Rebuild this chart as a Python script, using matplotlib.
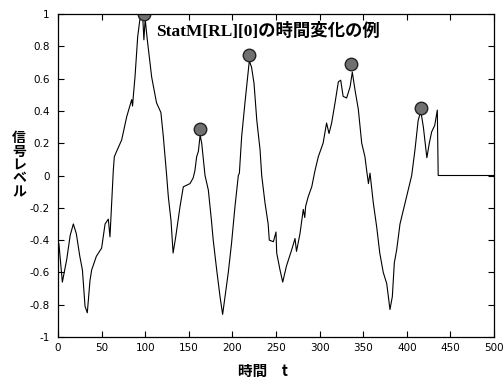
import matplotlib
matplotlib.use("Agg")
import matplotlib.pyplot as plt

# signal trace (time, level)
t = [0, 1, 5, 10, 14, 17.6, 21, 25, 28, 31, 33.6, 36.7, 38.6, 44, 50, 54, 57.7,
     59.6, 61.6, 63.4, 64.6, 67, 73, 78.8, 84.5, 85.5, 86.5, 88.3, 91.4, 94, 97,
     98.5, 100, 102, 107.4, 113, 118, 120.8, 124.6, 126.5, 129.6, 132, 135, 140,
     143.7, 151.4, 155, 157, 159, 161, 163, 164.8, 168.6, 172.4, 176, 178, 182,
     185.8, 188.8, 191.5, 195.3, 199, 203, 206.8, 208, 210.6, 214.4, 217.5, 219.4,
     222, 224.8, 228, 231.7, 233.6, 237.4, 241, 242.3, 247, 250, 250.8, 254.6,
     257.7, 262, 268, 271.8, 273.5, 277.5, 281.3, 283, 284, 287, 291, 294.7, 298.5,
     304, 308, 310.8, 313.8, 317.7, 321.5, 324.2, 327, 331, 335, 337.5, 340.6,
     344.4, 348.3, 352, 354, 356, 357.8, 361.6, 365.5, 369, 373, 377, 378.8, 380.7,
     383.4, 385.7, 388.4, 392.2, 398, 405.6, 409.4, 413, 416, 419, 423, 425.8,
     428.5, 432, 435, 436, 500]
y = [-0.50, -0.42, -0.66, -0.52, -0.37, -0.30, -0.36, -0.50, -0.585, -0.81, -0.85,
     -0.65, -0.585, -0.50, -0.45, -0.30, -0.27, -0.38, -0.17, 0.03, 0.116, 0.147,
     0.22, 0.364, 0.47, 0.43, 0.50, 0.61, 0.86, 0.97, 1.0, 0.84, 0.97, 0.86, 0.61,
     0.45, 0.39, 0.24, 0.0, -0.13, -0.28, -0.48, -0.38, -0.19, -0.07, -0.05, -0.015,
     0.03, 0.116, 0.15, 0.25, 0.20, 0.0, -0.09, -0.28, -0.40, -0.585, -0.75, -0.86,
     -0.75, -0.60, -0.42, -0.19, 0.0, 0.015, 0.24, 0.45, 0.61, 0.71, 0.67, 0.57,
     0.34, 0.16, 0.0, -0.17, -0.30, -0.40, -0.41, -0.35, -0.48, -0.585, -0.66,
     -0.56, -0.46, -0.39, -0.47, -0.36, -0.21, -0.26, -0.19, -0.13, -0.07, 0.03,
     0.116, 0.20, 0.325, 0.26, 0.325, 0.45, 0.58, 0.59, 0.49, 0.48, 0.55, 0.64,
     0.53, 0.41, 0.20, 0.116, 0.03, -0.05, 0.015, -0.17, -0.32, -0.48, -0.60, -0.67,
     -0.75, -0.83, -0.75, -0.54, -0.46, -0.30, -0.17, 0.0, 0.16, 0.34, 0.40, 0.30,
     0.11, 0.20, 0.27, 0.31, 0.405, 0.0, 0.0]

# peak markers
peak_t = [99, 163, 219.4, 336, 416]
peak_y = [1.0, 0.29, 0.745, 0.69, 0.42]

xticks = [0, 50, 100, 150, 200, 250, 300, 350, 400, 450, 500]
yticks = [-1, -0.8, -0.6, -0.4, -0.2, 0, 0.2, 0.4, 0.6, 0.8, 1]
ytick_labels = ["-1", "-0.8", "-0.6", "-0.4", "-0.2", "0", "0.2", "0.4", "0.6", "0.8", "1"]

title_text = "StatM[RL][0]の時間変化の例"
xlabel_text = "時間　t"
ylabel_text = "信号レベル"

fig = plt.figure(figsize=(5.03, 3.79), dpi=100)
ax = fig.add_axes([58/503, 1-337/379, 436/503, 323/379])

ax.plot(t, y, color="black", lw=0.8)
ax.plot(peak_t, peak_y, "o", ms=9, mfc="#707070", mec="#222222", mew=1.0, ls="none")

ax.set_xlim(0, 500)
ax.set_ylim(-1, 1)
ax.set_xticks(xticks)
ax.set_yticks(yticks)
ax.set_yticklabels(ytick_labels)
ax.tick_params(direction="in", length=4, width=0.8, top=True, right=True,
               labelsize=7.5, pad=4)
ax.tick_params(axis="y", pad=6)
for s in ax.spines.values():
    s.set_linewidth(0.9)

ax.text(0.225, 0.947, title_text, transform=ax.transAxes, fontsize=12.5,
        fontweight="bold", va="center", ha="left",
        family=["Liberation Serif", "Noto Sans CJK JP"])

fig.text(263/503, 1-371/379, xlabel_text, ha="center", va="center",
         fontsize=10.5, fontweight="bold", family=["Noto Sans CJK JP", "DejaVu Sans"])
fig.text(19/503, 1-165/379, "\n".join(ylabel_text), ha="center", va="center",
         fontsize=10, fontweight="bold", linespacing=0.95,
         family=["Noto Sans CJK JP", "DejaVu Sans"])

fig.savefig("out.png", dpi=100)
